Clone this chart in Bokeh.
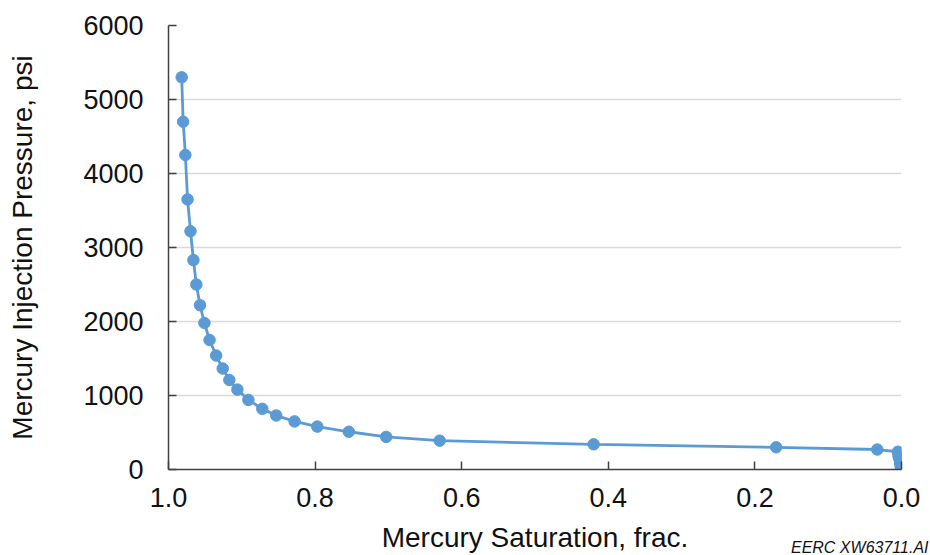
from bokeh.plotting import figure
from bokeh.models import Range1d, FixedTicker, Title
from bokeh.embed import file_html
from bokeh.resources import INLINE

# Mercury saturation (fraction) and injection pressure (psi)
saturation = [0.982, 0.980, 0.977, 0.974, 0.970, 0.966, 0.962, 0.957, 0.951, 0.944,
              0.935, 0.926, 0.917, 0.906, 0.891, 0.872, 0.853, 0.828, 0.797, 0.754,
              0.703, 0.630, 0.420, 0.171, 0.033,
              0.005, 0.004, 0.004, 0.003, 0.002, 0.002, 0.001, 0.001, 0.0]
pressure = [5300, 4700, 4250, 3650, 3220, 2830, 2500, 2220, 1980, 1750,
            1540, 1365, 1210, 1080, 940, 820, 730, 650, 580, 510,
            440, 390, 340, 300, 270,
            240, 210, 180, 150, 120, 90, 60, 40, 20]
x_ticks = [1.0, 0.8, 0.6, 0.4, 0.2, 0.0]
y_ticks = [0, 1000, 2000, 3000, 4000, 5000, 6000]

FONT = "Liberation Sans"
BLUE = "#5B9BD5"
TEXT = "#111111"

p = figure(width=930, height=555, output_backend="svg", toolbar_location=None,
           x_range=Range1d(1.0, 0.0), y_range=Range1d(0, 6000),
           min_border_left=168, min_border_right=29, min_border_top=25,
           min_border_bottom=86)
p.outline_line_color = None
p.background_fill_color = "white"
p.border_fill_color = "white"

p.line(saturation, pressure, line_color=BLUE, line_width=2.8)
p.scatter(saturation, pressure, size=11.5, fill_color=BLUE, line_color=BLUE)

p.xgrid.grid_line_color = None
p.ygrid.grid_line_color = "#d9d9d9"
p.ygrid.grid_line_width = 1.3

p.xaxis.ticker = FixedTicker(ticks=x_ticks)
p.yaxis.ticker = FixedTicker(ticks=y_ticks)
p.xaxis.major_label_overrides = {t: f"{t:.1f}" for t in x_ticks}

for ax in (p.xaxis[0], p.yaxis[0]):
    ax.axis_line_color = "#404040"
    ax.axis_line_width = 1.5
    ax.major_tick_line_color = "#404040"
    ax.major_tick_line_width = 1.5
    ax.major_tick_in = 8
    ax.major_tick_out = 0
    ax.minor_tick_line_color = None
    ax.major_label_text_font = FONT
    ax.major_label_text_font_size = "27px"
    ax.major_label_text_color = TEXT
    ax.axis_label_text_font = FONT
    ax.axis_label_text_font_size = "28px"
    ax.axis_label_text_font_style = "normal"
    ax.axis_label_text_color = TEXT

p.xaxis.axis_label = "Mercury Saturation, frac."
p.yaxis.axis_label = "Mercury Injection Pressure, psi"
p.yaxis.major_label_standoff = 25
p.xaxis.major_label_standoff = 18
p.yaxis.axis_label_standoff = 42
p.xaxis.axis_label_standoff = 12

note = Title(text="EERC XW63711.AI", align="right", vertical_align="top",
             offset=-27, standoff=-34, text_font=FONT, text_font_size="16px",
             text_font_style="italic", text_color=TEXT)
p.add_layout(note, "below")

open("out.html", "w").write(file_html(p, INLINE))
